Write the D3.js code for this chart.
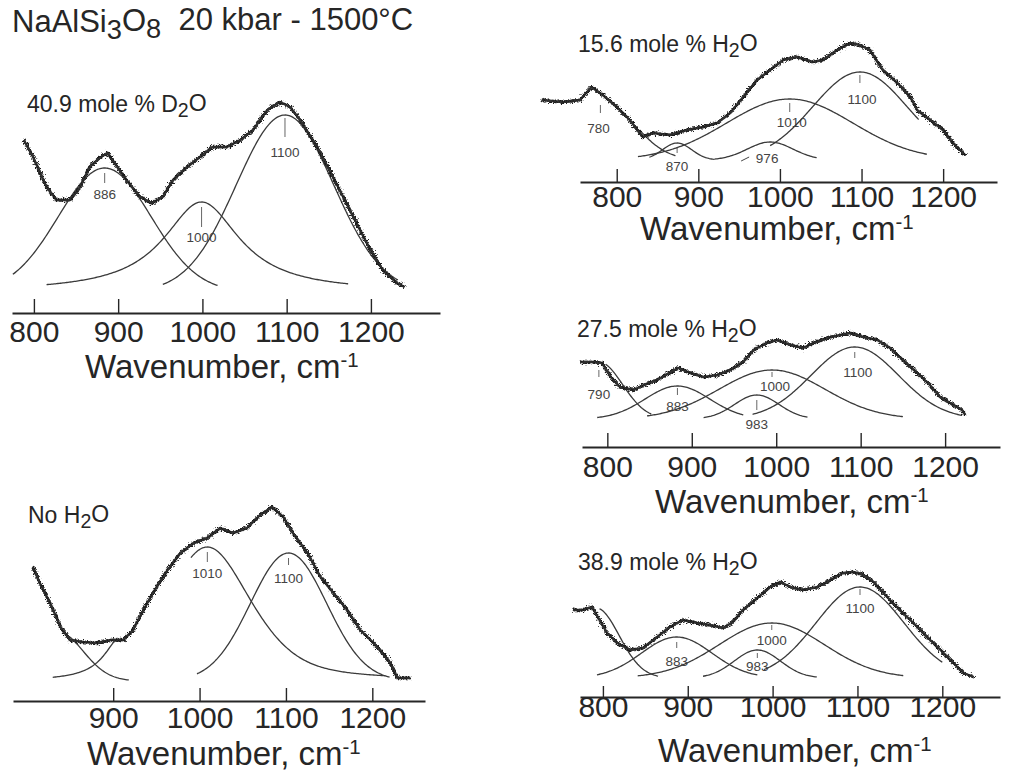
<!DOCTYPE html>
<html><head><meta charset="utf-8">
<script src="https://cdn.jsdelivr.net/npm/d3@7"></script>
<style>
body{margin:0;background:#fff;}
svg{display:block;font-family:"Liberation Sans",Arial,Helvetica,sans-serif;}
</style></head><body>
<svg id="chart" width="1017" height="773"></svg>
<script>
// ---------------- DATA ----------------
const tickValuesMain = [800, 900, 1000, 1100, 1200];
const tickValuesNoH2O = [900, 1000, 1100, 1200];

// Raman spectra: [wavenumber cm-1, intensity (arb.)]
const spectrumD2O409 = [[788,152],[799,135],[815,105],[827,92],[843,92],[855,105],[866,125],[878,134],[887,139],[899,125],[910,112],[926,95],[940,89],[953,95],[965,112],[982,125],[997,135],[1012,145],[1029,145],[1045,152],[1060,162],[1077,182],[1092,190],[1104,185],[1116,172],[1136,145],[1155,115],[1175,82],[1195,49],[1214,22],[1231,9],[1240,5]];
const spectrumH2O156 = [[708,60],[734,58],[755,60],[769,73],[783,65],[800,53],[816,40],[832,23],[844,27],[865,25],[886,30],[906,33],[923,37],[939,47],[955,63],[972,80],[988,90],[1004,100],[1021,103],[1040,98],[1053,100],[1070,110],[1086,117],[1098,115],[1110,110],[1126,90],[1144,77],[1160,63],[1168,50],[1184,40],[1200,30],[1212,17],[1227,5]];
const spectrumNoH2O = [[807,114],[815,98],[827,78],[839,54],[850,41],[865,39],[881,38],[897,41],[912,41],[923,51],[935,71],[946,88],[963,111],[978,128],[993,138],[1009,143],[1024,153],[1039,148],[1055,153],[1070,166],[1084,174],[1097,164],[1108,148],[1125,128],[1140,104],[1155,88],[1171,71],[1186,51],[1198,41],[1209,31],[1221,18],[1229,3],[1244,3]];
const spectrumH2O275 = [[768,57],[783,57],[794,56],[804,42],[815,32],[831,29],[843,34],[859,39],[875,47],[884,51],[898,46],[914,42],[930,44],[946,49],[961,57],[973,69],[989,76],[1001,79],[1017,74],[1032,71],[1044,76],[1060,81],[1076,84],[1088,86],[1103,82],[1120,79],[1135,71],[1150,59],[1167,46],[1182,34],[1194,22],[1206,16],[1220,9],[1224,4]];
const spectrumH2O389 = [[765,68],[776,68],[787,71],[794,61],[805,45],[817,35],[832,28],[847,30],[864,41],[879,51],[894,58],[911,55],[926,53],[942,50],[953,56],[965,68],[982,80],[997,91],[1009,96],[1021,91],[1036,88],[1053,91],[1068,98],[1083,105],[1095,106],[1107,103],[1119,96],[1135,81],[1150,68],[1166,55],[1182,41],[1198,28],[1213,15],[1225,5],[1237,1]];

// Fitted component bands: center, height, half-width at half max, Lorentz fraction, drawn range, label
const bandsD2O409 = [
  {center:884, height:124, hwhm:65, eta:0, from:775, to:1018, label:"886"},
  {center:999, height:90, hwhm:55, eta:1, from:815, to:1173, label:"1000"},
  {center:1098, height:177, hwhm:68, eta:0, from:953, to:1232, label:"1100"}
];
const bandsH2O156 = [
  {center:780, height:62, hwhm:47, eta:0, from:828, to:872, label:"780"},
  {center:874, height:17, hwhm:21, eta:0, from:840, to:920, label:"870"},
  {center:988, height:18, hwhm:33, eta:0, from:920, to:1045, label:"976"},
  {center:1012, height:61, hwhm:91, eta:0, from:826, to:1180, label:"1010"},
  {center:1098, height:88, hwhm:68, eta:0, from:988, to:1170, label:"1100"}
];
const bandsNoH2O = [
  {center:835, height:50, hwhm:35, eta:0, from:850, to:918, label:""},
  {center:910, height:45, hwhm:24, eta:1, from:830, to:905, label:""},
  {center:1009, height:134, hwhm:60, eta:0.5, from:990, to:1215, label:"1010"},
  {center:1103, height:128, hwhm:52, eta:0, from:997, to:1220, label:"1100"}
];
const bandsH2O275 = [
  {center:790, height:57, hwhm:33, eta:0, from:798, to:852, label:"790"},
  {center:883, height:33, hwhm:45, eta:0, from:788, to:961, label:"883"},
  {center:995, height:49, hwhm:74, eta:0, from:847, to:1150, label:"1000"},
  {center:977, height:24, hwhm:31, eta:0, from:914, to:1037, label:"983"},
  {center:1093, height:72, hwhm:61, eta:0, from:972, to:1220, label:"1100"}
];
const bandsH2O389 = [
  {center:792, height:70, hwhm:32, eta:0, from:796, to:865, label:""},
  {center:887, height:41, hwhm:49, eta:0, from:793, to:982, label:"883"},
  {center:999, height:55, hwhm:73, eta:0, from:841, to:1154, label:"1000"},
  {center:982, height:28, hwhm:32, eta:0, from:918, to:1052, label:"983"},
  {center:1103, height:91, hwhm:61, eta:0, from:990, to:1200, label:"1100"}
];

const panelLabels = [
  {pre:"40.9 mole % D", sub:"2", post:"O"},
  {pre:"15.6 mole % H", sub:"2", post:"O"},
  {pre:"No H", sub:"2", post:"O"},
  {pre:"27.5 mole % H", sub:"2", post:"O"},
  {pre:"38.9 mole % H", sub:"2", post:"O"}
];
const axisTitle = {text:"Wavenumber, cm", sup:"-1"};

// ---------------- LAYOUT (positions / styles) ----------------
const layout = [
  {x0:12, x1:440, w0:774, w1:1282, base:292, axisY:313, tickLen:14, tickLabelDy:29, titleX:85, titleY:378, labX:27, labY:112,
   ann:[{t1:5,t2:15,ty:31},{t1:5,t2:25,ty:40},{t1:3,t2:22,ty:42}]},
  {x0:580, x1:997, w0:755, w1:1266, base:160, axisY:182, tickLen:13, tickLabelDy:25, titleX:640, titleY:240, labX:578, labY:52,
   ann:[{t1:7,t2:15,ty:35,dx:-2},{t1:4,t2:10,ty:28},{t1:null,ty:21,dx:-3,lead:true},{t1:4,t2:13,ty:28,dx:2},{t1:3,t2:11,ty:32,dx:2}]},
  {x0:13, x1:425, w0:784, w1:1261, base:681, axisY:701, tickLen:13, tickLabelDy:27, titleX:87, titleY:765, labX:28, labY:523,
   ann:[null,null,{t1:5,t2:15,ty:31},{t1:5,t2:12,ty:30}]},
  {x0:582, x1:1000, w0:770, w1:1265, base:419, axisY:447, tickLen:14, tickLabelDy:30, titleX:655, titleY:513, labX:577, labY:337,
   ann:[{t1:8,t2:15,ty:37},{t1:2,t2:9,ty:25},{t1:2,t2:7,ty:21,dx:3},{t1:5,t2:15,ty:34},{t1:5,t2:11,ty:30,dx:3}]},
  {x0:580, x1:1000, w0:773, w1:1268, base:678, axisY:697, tickLen:11, tickLabelDy:20, titleX:658, titleY:762, labX:578, labY:570,
   ann:[null,{t1:5,t2:11,ty:29},{t1:2,t2:7,ty:22},{t1:3,t2:8,ty:21},{t1:2,t2:8,ty:26}]}
];
const panelSpectra = [spectrumD2O409, spectrumH2O156, spectrumNoH2O, spectrumH2O275, spectrumH2O389];
const panelBands = [bandsD2O409, bandsH2O156, bandsNoH2O, bandsH2O275, bandsH2O389];
const panelTicks = [tickValuesMain, tickValuesMain, tickValuesNoH2O, tickValuesMain, tickValuesMain];

const INK = "#262626";
const svg = d3.select("#chart");

const defs = svg.append("defs");
function roughFilter(id, seed, freq, scale){
  const f = defs.append("filter").attr("id",id).attr("x","-5%").attr("y","-20%").attr("width","110%").attr("height","140%");
  f.append("feTurbulence").attr("type","fractalNoise").attr("baseFrequency",freq).attr("numOctaves",2).attr("seed",seed).attr("result","n");
  f.append("feDisplacementMap").attr("in","SourceGraphic").attr("in2","n").attr("scale",scale).attr("xChannelSelector","R").attr("yChannelSelector","G");
}
roughFilter("rough1", 4, "0.6 1.1", 8);
roughFilter("rough2", 11, "0.9 0.9", 6);

// main title
const title = svg.append("text").attr("x",12).attr("y",32).attr("font-size",31).attr("fill",INK);
title.append("tspan").text("NaAlSi");
title.append("tspan").attr("dy","0.27em").attr("font-size","0.88em").text("3");
title.append("tspan").attr("dy","-0.27em").text("O");
title.append("tspan").attr("dy","0.27em").attr("font-size","0.88em").text("8");
title.append("tspan").attr("dy","-0.27em").text("\u00a0\u00a020 kbar - 1500\u00b0C");

function profile(b, w){
  const d = (w - b.center)/b.hwhm;
  return b.height*(b.eta/(1+d*d) + (1-b.eta)*Math.exp(-Math.LN2*d*d));
}

layout.forEach((L, i) => {
  const g = svg.append("g");
  const x = d3.scaleLinear().domain([L.w0, L.w1]).range([L.x0, L.x1]);
  const y = d3.scaleLinear().domain([0, 100]).range([L.base, L.base - 100]);

  // axis
  const axis = d3.axisBottom(x).tickValues(panelTicks[i]).tickSizeInner(-L.tickLen).tickSizeOuter(0).tickFormat(d3.format("d"));
  const ag = g.append("g").attr("transform", `translate(0,${L.axisY})`).call(axis);
  ag.select(".domain").attr("stroke", INK).attr("stroke-width", 2);
  ag.selectAll(".tick line").attr("stroke", INK).attr("stroke-width", 1.4);
  ag.selectAll(".tick text").attr("y", L.tickLabelDy).attr("dy", 0).attr("font-size", 30)
    .attr("font-family", '"Liberation Sans",Arial,sans-serif').attr("fill", INK);

  // axis title
  const at = g.append("text").attr("x", L.titleX).attr("y", L.titleY).attr("font-size", 33).attr("fill", INK);
  at.append("tspan").text(axisTitle.text);
  at.append("tspan").attr("dy","-0.55em").attr("font-size","0.62em").text(axisTitle.sup);

  // panel label
  const pl = panelLabels[i];
  const lt = g.append("text").attr("x", L.labX).attr("y", L.labY).attr("font-size", 23).attr("fill", INK);
  lt.append("tspan").text(pl.pre);
  lt.append("tspan").attr("dy","0.28em").attr("font-size","0.85em").text(pl.sub);
  lt.append("tspan").attr("dy","-0.28em").text(pl.post);

  // bands
  const line = d3.line().x(d => x(d[0])).y(d => y(d[1]));
  panelBands[i].forEach((b, j) => {
    const pts = d3.range(b.from, b.to, 1.5).concat([b.to]).map(w => [w, profile(b, w)]);
    g.append("path").attr("d", line(pts)).attr("fill","none").attr("stroke","#3a3a3a").attr("stroke-width",1.3);
    const a = L.ann[j];
    if (b.label && a) {
      const px = x(b.center), py = y(b.height), dx = a.dx || 0;
      if (a.t1 !== null && a.t1 !== undefined) {
        g.append("line").attr("x1", px).attr("x2", px).attr("y1", py + a.t1).attr("y2", py + a.t2)
          .attr("stroke","#555").attr("stroke-width",0.9);
      }
      g.append("text").attr("x", px + dx).attr("y", py + a.ty).attr("text-anchor","middle")
        .attr("font-size", 13.5).attr("fill","#444").text(b.label);
      if (a.lead) {
        g.append("line").attr("x1", px + dx - 26).attr("y1", py + a.ty - 2).attr("x2", px + dx - 18).attr("y2", py + a.ty - 6)
          .attr("stroke","#444").attr("stroke-width",1);
      }
    }
  });

  // spectrum (thick, noisy-looking trace)
  const sl = d3.line().x(d => x(d[0])).y(d => y(d[1]));
  const dpath = sl(panelSpectra[i]);
  g.append("path").attr("d", dpath).attr("fill","none").attr("stroke","#2a2a2a")
    .attr("stroke-width",2.4).attr("stroke-linejoin","round");
  g.append("path").attr("d", dpath).attr("fill","none").attr("stroke","#1e1e1e")
    .attr("stroke-width",2.6).attr("stroke-linejoin","round").attr("filter","url(#rough1)");
  g.append("path").attr("d", dpath).attr("fill","none").attr("stroke","#333")
    .attr("stroke-width",1.6).attr("stroke-linejoin","round").attr("filter","url(#rough2)");
});
</script>
</body></html>
